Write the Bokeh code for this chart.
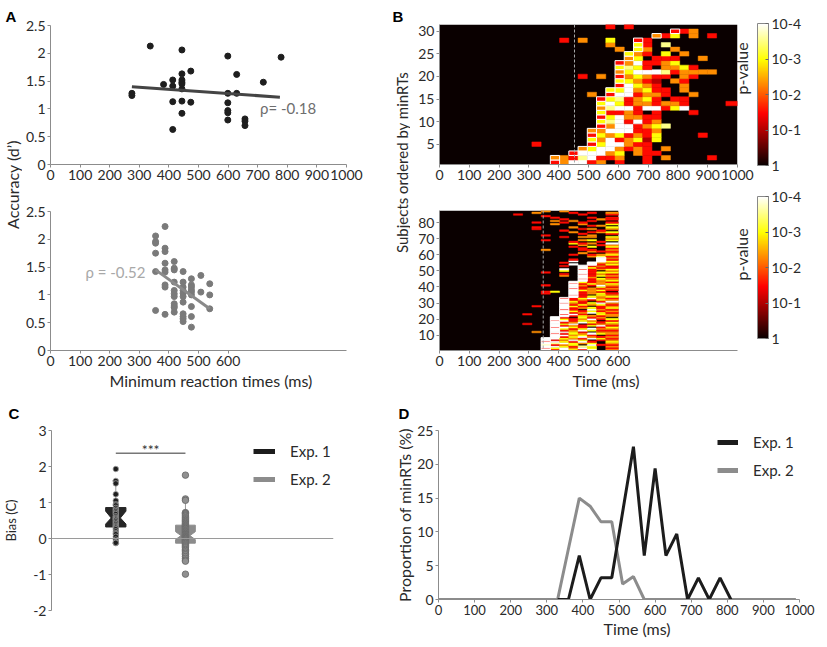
import math
from bokeh.plotting import figure
from bokeh.layouts import row, column
from bokeh.models import (Label, ColorBar, LinearColorMapper, FixedTicker, Span, Title,
                          Legend, LegendItem, NumeralTickFormatter, LinearAxis)
from bokeh.transform import transform
from bokeh.embed import file_html
from bokeh.resources import INLINE
from bokeh.core.properties import value

FONT = "Lato"

# ---------------- Panel A (top): Exp. 1 ----------------
a1_minrt = [275, 275, 337, 382, 413, 413, 413, 413,
            444, 444, 444, 444, 444, 444, 444, 444,
            474, 474, 599, 599, 599, 599, 599, 599,
            629, 629, 657, 657, 657, 719, 779]
a1_dprime = [1.28, 1.24, 2.13, 1.44, 1.52, 1.41, 1.13, 0.63,
             2.06, 1.63, 1.52, 1.48, 1.45, 1.36, 1.14, 0.92,
             1.68, 1.12, 1.95, 1.28, 1.11, 0.97, 0.93, 0.80,
             1.62, 1.28, 0.82, 0.78, 0.70, 1.48, 1.93]
a1_fit_x = [275, 775]
a1_fit_y = [1.40, 1.21]
a1_rho = "ρ= -0.18"
a1_rho_pos = (708, 1.02)

# ---------------- Panel A (bottom): Exp. 2 ----------------
a2_minrt = [355, 355, 355, 355, 355, 355,
            387, 387, 387, 387, 387, 387, 387, 387, 387,
            418, 418, 418, 418, 418, 418, 418, 418, 418, 418, 418,
            448, 448, 448, 448, 448, 448, 448, 448, 448, 448, 448,
            476, 476, 476, 476, 476, 476, 476, 476, 476,
            508, 508,
            538, 538, 538]
a2_dprime = [2.06, 1.96, 1.93, 1.75, 1.42, 0.72,
             2.23, 1.84, 1.78, 1.57, 1.45, 1.41, 1.18, 1.14, 0.65,
             1.60, 1.48, 1.45, 1.23, 1.08, 1.02, 0.97, 0.84, 0.80, 0.77, 0.69,
             1.42, 1.23, 1.14, 1.08, 1.03, 0.97, 0.87, 0.66, 0.61, 0.57, 0.52,
             1.29, 1.18, 1.14, 1.09, 1.05, 1.00, 0.79, 0.61, 0.42,
             1.35, 1.05,
             1.20, 1.00, 0.75]
a2_fit_x = [355, 538]
a2_fit_y = [1.45, 0.75]
a2_rho = "ρ = -0.52"
a2_rho_pos = (118, 1.42)

# ---------------- Panel B: p-value maps ----------------
BIN_MS = 31
P_OF = {".": 1.0, "d": 0.1, "r": 0.03, "o": 0.005, "y": 0.001, "l": 0.0003, "w": 0.0001}
# Exp. 1 : 31 subjects, bins k = 10..31 written (earlier bins non significant)
b1_first_bin = 10
b1_n_bins = 32
b1_t_end = 1000
b1_rows = [
    "..Rowwro.r..r.........",
    "..Oorlwrro..r.o....r..",
    "....Rwwwoy.orr........",
    ".....Oywworor.o.......",
    "r.....Rywworr.........",
    "......Yowroydy........",
    "......Ryoyrory....r...",
    "......Oowwwrro........",
    ".......Rowwroyl.......",
    ".......Ylwrwro........",
    ".......Rywoorr........",
    ".......Yrror.r...r....",
    ".......Olwwrwwryw.....",
    ".......Ywyrooroor....r",
    ".......Rylroyr.rr.....",
    "......o.Rwwroor..o....",
    "........Yywoyrr.o.....",
    ".........Rwyor..o.....",
    ".........Yyord.or.....",
    ".....r.o.Royorr.or....",
    ".........Oywwwlroooo..",
    ".........Ylyr.ooyr....",
    ".........Rowrroy......",
    "..........Oy.rrr..o...",
    "..........Yor.y.o.....",
    ".........o.Yo..o......",
    "........o..Yr.l.......",
    "...r.o..y..Rr.........",
    ".............Ory.o.r..",
    "...............Rro....",
    "........r.r...........",
]
b1_mean_minrt = 453
# Exp. 2 : 87 subjects, bins k = 8..18 written
b2_first_bin = 8
b2_n_bins = 19
b2_t_end = 600
b2_rows = [
    "...Wrwyrw.o", "...Rywowy.r", "...Wwyrly.o", "...Yroy.wrr", "...Wlwyoy.o",
    "...Rwyrwr.y", "...Wrowy.ro", "...Wwyorwyr", "....Wryworo", "....Wwoyr.r",
    "....Rryowyo", "..o.Wwyr.oo", "....Wrowyrr", "....Wyrywoo", "....Rwyr.ry",
    "....Wrorywr", ".r..Wyw.roo", "....Wrowyry", "....Rwryo.r", "....Wyrowry",
    "....Wr.yro.", ".....Wryoro", ".r...Rwr.yo", ".....Wrowyr", ".....Wyryro",
    ".....Rr.wor", ".....Wroyry", "..r..Wyr.ro", ".....Wryoyr", ".....Rorywo",
    ".....Wyr.rw", ".....Wroryo", ".....Rrywor", "......Wryoy", "......Rr.yo",
    "...r..Wroyr", "...ry.Wror.", "......Wyoyr", "......Rroro", "......Wr.yr",
    "...r..Worwo", "......Rryoy", "......Wyror", ".......Wroy", ".......Rryo",
    ".......Wo.r", ".....o.Wryo", ".....r.Rror", "...r...Wryy", ".....y.Wr.o",
    ".....w.Rroy", ".......Wyrr", ".....r.Wror", "......w.Wry", ".....r..Woo",
    "......w..Wy", "......r..Wr", ".........Wo", "........oyr", "......r.roy",
    ".......o..o", "........orr", "...o...rr.o", ".......r..r", "......r.y.y",
    ".......o.ro", "......yro.w", "......r..r.", "...r...oy.y", "..........o",
    ".....r.oo.y", "...r....o..", ".......r..r", "......o.roy", ".....r...r.",
    "..r....ro.o", "..r...o...y", "........ro.", "....o..o..y", "..r..r.r..r",
    "....o.o.r..", ".....r...or", "....r...r.r", "...r.......", "r......r..r",
    "..o...r.r.o", "...o.o.....",
]
b2_mean_minrt = 348
cbar_ticks = [0, 1, 2, 3, 4]
cbar_labels = {0: "1", 1: "10-1", 2: "10-2", 3: "10-3", 4: "10-4"}

# ---------------- Panel C: bias ----------------
c_exp1_bias = [1.93, 1.60, 1.53, 1.23, 1.05, 0.95, 0.92, 0.85, 0.80, 0.76,
               0.72, 0.68, 0.62, 0.58, 0.55, 0.52, 0.48, 0.44, 0.40, 0.36,
               0.33, 0.30, 0.26, 0.20, 0.15, 0.12, 0.05, -0.03, -0.10, -0.13, -0.12]
c_exp2_bias = [1.76, 1.10, 1.06, 0.72, 0.70, 0.68, 0.65, 0.62, 0.58, 0.55,
               0.52, 0.50, 0.47, 0.45, 0.42, 0.40, 0.38, 0.36, 0.34, 0.32,
               0.30, 0.28, 0.26, 0.24, 0.22, 0.20, 0.18, 0.16, 0.14, 0.12,
               0.10, 0.09, 0.08, 0.06, 0.05, 0.04, 0.02, 0.01, 0.00, -0.02,
               -0.04, -0.06, -0.08, -0.10, -0.12, -0.14, -0.17, -0.20, -0.23, -0.26,
               -0.30, -0.33, -0.37, -0.41, -0.45, -0.50, -0.55, -0.60, -0.63, -0.99]
# box stats: q1, median, q3, notch low, notch high, whisker low, whisker high
c_exp1_box = dict(q1=0.32, med=0.57, q3=0.86, nlo=0.40, nhi=0.76, wlo=-0.14, whi=1.60)
c_exp2_box = dict(q1=-0.13, med=0.08, q3=0.37, nlo=-0.03, nhi=0.19, wlo=-0.62, whi=1.08)
c_sig_y = 2.37
c_sig_text = "***"
c_groups = ["Exp. 1", "Exp. 2"]

# ---------------- Panel D: minRT distributions ----------------
d_time_exp1 = [330, 360, 390, 420, 450, 480, 510, 540, 570, 600, 630, 660, 690, 720, 750, 780, 810]
d_exp1_pct = [0, 0, 6.5, 0, 3.2, 3.2, 12.9, 22.6, 6.5, 19.4, 6.5, 9.7, 0, 3.2, 0, 3.2, 0]
d_time_exp2 = [0, 30, 60, 90, 120, 150, 180, 210, 240, 270, 300, 330, 360, 390, 420, 450, 480,
               510, 540, 570, 600, 630, 660, 690, 720, 750, 780, 810, 840, 870, 900, 930, 960, 990]
d_exp2_pct = [0, 0, 0, 0, 0, 0, 0, 0, 0, 0, 0, 0, 7.5, 15.0, 13.8, 11.5, 11.5,
              2.3, 3.4, 0, 0, 0, 0, 0, 0, 0, 0, 0, 0, 0, 0, 0, 0, 0]

# ---------------- styling helpers ----------------
AX = "#8c8c8c"
TXT = "#2a2a2a"
C1 = "#1c1c1c"
C2 = "#8c8c8c"


def hot_palette(n=256):
    cols = []
    for i in range(n):
        t = i / (n - 1)
        r = min(1.0, 0.0416 + (1 - 0.0416) * t / 0.365079)
        g = min(1.0, max(0.0, (t - 0.365079) / (0.746032 - 0.365079)))
        b = min(1.0, max(0.0, (t - 0.746032) / (1 - 0.746032)))
        cols.append("#%02x%02x%02x" % (int(r * 255), int(g * 255), int(b * 255)))
    return cols


HOT = hot_palette()


def style(p, tick_size="14px"):
    p.grid.visible = False
    p.outline_line_color = None
    p.background_fill_color = "white"
    p.border_fill_color = "white"
    for ax in p.axis:
        ax.axis_line_color = AX
        ax.major_tick_line_color = AX
        ax.minor_tick_line_color = None
        ax.major_tick_in = 0
        ax.major_tick_out = 3
        ax.major_label_text_font = FONT
        ax.major_label_text_font_size = tick_size
        ax.major_label_text_color = TXT
        ax.major_label_standoff = 2
        ax.axis_label_text_font = FONT
        ax.axis_label_text_font_size = "16px"
        ax.axis_label_text_font_style = "normal"
        ax.axis_label_text_color = TXT
        ax.axis_label_standoff = 2


def fig(w, h, l, r, t, b, xr, yr, **kw):
    return figure(width=w, height=h, x_range=xr, y_range=yr, toolbar_location=None,
                  output_backend="svg", min_border_left=l, min_border_right=r,
                  min_border_top=t, min_border_bottom=b, **kw)


def slabel(p, x, y, text, size="16px", angle=0.0, align="left", baseline="bottom",
           color=TXT, font=FONT, fstyle="normal"):
    p.add_layout(Label(x=x, y=y, x_units="screen", y_units="screen", text=text, angle=angle,
                       text_align=align, text_baseline=baseline, text_font_size=size,
                       text_color=color, text_font=font, text_font_style=fstyle))


def xtitle(p, text, offset, standoff=2):
    p.add_layout(Title(text=text, align="left", offset=offset, vertical_align="middle",
                       standoff=standoff, text_font=FONT, text_font_size="16px",
                       text_font_style="normal", text_color=TXT), "below")


def letter(p, text, offset):
    p.title.text = text
    p.title.align = "left"
    p.title.offset = offset
    p.title.vertical_align = "top"
    p.title.standoff = 13
    p.title.text_font = "Liberation Sans"
    p.title.text_font_size = "15px"
    p.title.text_font_style = "bold"
    p.title.text_color = "black"


# ---------------- side label strips ----------------
labA = fig(22, 398, 0, 0, 0, 0, (0, 1), (0, 1), x_axis_location=None, y_axis_location=None)
style(labA)
slabel(labA, 12, 214, "Accuracy (d’)", angle=math.pi / 2, align="center", baseline="middle")
slabel(labA, 5, 391, "A", size="15px", baseline="top", font="Liberation Sans", fstyle="bold", color="black")

labB = fig(18, 398, 0, 0, 0, 0, (0, 1), (0, 1), x_axis_location=None, y_axis_location=None)
style(labB)
slabel(labB, 9, 236, "Subjects ordered by minRTs", size="15px", angle=math.pi / 2,
       align="center", baseline="middle")
slabel(labB, 0, 391, "B", size="15px", baseline="top", font="Liberation Sans", fstyle="bold", color="black")

# ---------------- A top ----------------
pA1 = fig(370, 188, 26, 46, 25, 24, (0, 1000), (0, 2.5))
pA1.scatter(a1_minrt, a1_dprime, size=6, color="#1e1e1e")
pA1.line(a1_fit_x, a1_fit_y, line_color="#444444", line_width=3)
pA1.text(x=[a1_rho_pos[0]], y=[a1_rho_pos[1]], text=[a1_rho], text_font=value(FONT),
         text_font_size="15px", text_color="#6e6e6e", text_baseline="middle")
style(pA1)
pA1.xaxis.ticker = FixedTicker(ticks=list(range(0, 1001, 100)))
pA1.yaxis.ticker = FixedTicker(ticks=[0, 0.5, 1, 1.5, 2, 2.5])
pA1.yaxis.formatter = NumeralTickFormatter(format="0.[0]")

# ---------------- A bottom ----------------
pA2 = fig(370, 210, 26, 46, 23, 48, (0, 1000), (0, 2.5))
pA2.scatter(a2_minrt, a2_dprime, size=6, color="#7a7a7a")
pA2.line(a2_fit_x, a2_fit_y, line_color="#8a8a8a", line_width=3)
pA2.text(x=[a2_rho_pos[0]], y=[a2_rho_pos[1]], text=[a2_rho], text_font=value(FONT),
         text_font_size="15px", text_color="#a8a8a8", text_baseline="middle")
style(pA2)
pA2.xaxis.ticker = FixedTicker(ticks=list(range(0, 601, 100)))
pA2.yaxis.ticker = FixedTicker(ticks=[0, 0.5, 1, 1.5, 2, 2.5])
pA2.yaxis.formatter = NumeralTickFormatter(format="0.[0]")
xtitle(pA2, "Minimum reaction times (ms)", 59)

# ---------------- B heatmaps ----------------
cmap = LinearColorMapper(palette=HOT, low=0, high=4)


def heat_cells(rows, first_bin, n_bins, t_end):
    plain = dict(left=[], right=[], bottom=[], top=[], v=[])
    boxed = dict(left=[], right=[], bottom=[], top=[], v=[])
    for s, line in enumerate(rows, start=1):
        for j, ch in enumerate(line):
            k = first_bin + j
            if k >= n_bins or ch.lower() not in P_OF or ch == ".":
                continue
            tgt = boxed if ch.isupper() else plain
            tgt["left"].append(k * BIN_MS)
            tgt["right"].append(t_end if k == n_bins - 1 else (k + 1) * BIN_MS)
            tgt["bottom"].append(s - 0.5)
            tgt["top"].append(s + 0.5)
            tgt["v"].append(-math.log10(P_OF[ch.lower()]))
    return plain, boxed


def heat_panel(p, rows, first_bin, n_bins, t_end, mean_rt):
    p.quad(left=[0], right=[t_end], bottom=[0.5], top=[len(rows) + 0.5],
           fill_color=HOT[0], line_color=None)
    plain, boxed = heat_cells(rows, first_bin, n_bins, t_end)
    p.quad(left="left", right="right", bottom="bottom", top="top", source=plain,
           fill_color=transform("v", cmap), line_color=transform("v", cmap), line_width=0.5)
    p.quad(left="left", right="right", bottom="bottom", top="top", source=boxed,
           fill_color=transform("v", cmap), line_color="white", line_width=1)
    p.add_layout(Span(location=mean_rt, dimension="height", line_color="#a8a8a8",
                      line_dash="3 2", line_width=1))


def add_cbar(p, y_off):
    cb = ColorBar(color_mapper=cmap, ticker=FixedTicker(ticks=cbar_ticks),
                  major_label_overrides=cbar_labels, width=11, height=142,
                  location=(318, y_off), padding=0, margin=0,
                  bar_line_color="#888888", major_tick_line_color="#666666",
                  major_tick_in=3, major_tick_out=0, minor_tick_line_color=None,
                  major_label_text_font=FONT, major_label_text_font_size="14px",
                  major_label_text_color=TXT, label_standoff=3,
                  background_fill_alpha=0, border_line_color=None)
    p.add_layout(cb)
    ax = LinearAxis(ticker=FixedTicker(ticks=[]), axis_line_color=None,
                    major_tick_line_color=None, minor_tick_line_color=None,
                    major_tick_out=0, major_label_text_font_size="1px",
                    axis_label="p-value", axis_label_standoff=4,
                    axis_label_text_font=FONT, axis_label_text_font_size="16px",
                    axis_label_text_font_style="normal", axis_label_text_color=TXT)
    try:
        ax.axis_label_orientation = math.pi / 2
    except Exception:
        pass
    p.add_layout(ax, "right")


pB1 = fig(417, 188, 29, 90, 24, 24, (0, 1000), (0.5, 31.5))
heat_panel(pB1, b1_rows, b1_first_bin, b1_n_bins, b1_t_end, b1_mean_minrt)
style(pB1)
pB1.xaxis.ticker = FixedTicker(ticks=list(range(0, 1001, 100)))
pB1.yaxis.ticker = FixedTicker(ticks=[5, 10, 15, 20, 25, 30])
add_cbar(pB1, -1)

pB2 = fig(417, 210, 29, 90, 22, 48, (0, 1000), (0.5, 87.5))
heat_panel(pB2, b2_rows, b2_first_bin, b2_n_bins, b2_t_end, b2_mean_minrt)
style(pB2)
pB2.xaxis.ticker = FixedTicker(ticks=list(range(0, 601, 100)))
pB2.yaxis.ticker = FixedTicker(ticks=[10, 20, 30, 40, 50, 60, 70, 80])
add_cbar(pB2, 12)
xtitle(pB2, "Time (ms)", 133)

# ---------------- C ----------------
pC = fig(392, 249, 48, 59, 32, 37, (0, 1), (-2, 3), x_axis_location=None)
c_pos = [0.228, 0.475]
c_half = [0.036, 0.035]
c_fill = ["#262626", "#8c8c8c"]
pC.add_layout(Span(location=0, dimension="width", line_color="#9a9a9a", line_width=1))
for box, cx, hw, col in zip([c_exp1_box, c_exp2_box], c_pos, c_half, c_fill):
    wn = hw * 0.45
    xs = [cx - hw, cx + hw, cx + hw, cx + wn, cx + hw, cx + hw, cx - hw, cx - hw, cx - wn, cx - hw]
    ys = [box["q3"], box["q3"], box["nhi"], box["med"], box["nlo"], box["q1"], box["q1"],
          box["nlo"], box["med"], box["nhi"]]
    pC.segment(x0=[cx, cx], y0=[box["q3"], box["q1"]], x1=[cx, cx], y1=[box["whi"], box["wlo"]],
               line_color="#9a9a9a", line_width=1)
    pC.segment(x0=[cx - 0.012, cx - 0.012], y0=[box["whi"], box["wlo"]],
               x1=[cx + 0.012, cx + 0.012], y1=[box["whi"], box["wlo"]],
               line_color="#9a9a9a", line_width=1)
    pC.patch(xs, ys, fill_color=col, line_color=col)
pC.scatter([c_pos[0]] * len(c_exp1_bias), c_exp1_bias, size=5.5, fill_color="#1e1e1e",
           line_color="#a0a0a0", line_width=0.8)
pC.scatter([c_pos[1]] * len(c_exp2_bias), c_exp2_bias, size=6.5, fill_color="#909090",
           line_color="#666666", line_width=0.8)
pC.segment(x0=[c_pos[0]], x1=[c_pos[1]], y0=[c_sig_y], y1=[c_sig_y], line_color="#777777", line_width=1.5)
pC.text(x=[(c_pos[0] + c_pos[1]) / 2], y=[c_sig_y + 0.09], text=[c_sig_text], text_font=value(FONT),
        text_font_size="14px", text_color="#333333", text_align="center", text_baseline="middle")
# legend proxies, drawn below the visible y range
rc1 = pC.line(x=[0, 0.1], y=[-9, -9], line_color=C1, line_width=5)
rc2 = pC.line(x=[0, 0.1], y=[-9, -9], line_color=C2, line_width=5)
style(pC)
pC.yaxis.ticker = FixedTicker(ticks=[-2, -1, 0, 1, 2, 3])
pC.yaxis.formatter = NumeralTickFormatter(format="0")
pC.yaxis.axis_label = "Bias (C)"
pC.yaxis.axis_label_text_font_size = "13px"
pC.yaxis.axis_label_standoff = 11
legC = Legend(items=[LegendItem(label=c_groups[0], renderers=[rc1]),
                     LegendItem(label=c_groups[1], renderers=[rc2])],
              location=(202, 121), orientation="vertical", background_fill_alpha=0,
              border_line_alpha=0, padding=0, margin=0, spacing=8, glyph_width=22,
              glyph_height=20, label_height=20, label_standoff=15, label_text_font=FONT,
              label_text_font_size="15px", label_text_color=TXT)
pC.add_layout(legC)
letter(pC, "C", -43)

# ---------------- D ----------------
pD = fig(435, 249, 46, 28, 31, 48, (0, 1000), (0, 25))
pD.line(d_time_exp2, d_exp2_pct, line_color=C2, line_width=3)
pD.line(d_time_exp1, d_exp1_pct, line_color=C1, line_width=3)
rd1 = pD.line(x=[0, 10], y=[-9, -9], line_color=C1, line_width=5)
rd2 = pD.line(x=[0, 10], y=[-9, -9], line_color=C2, line_width=5)
style(pD, tick_size="13px")
pD.yaxis.major_label_text_font_size = "14px"
pD.xaxis.ticker = FixedTicker(ticks=list(range(0, 1001, 100)))
pD.yaxis.ticker = FixedTicker(ticks=[0, 5, 10, 15, 20, 25])
pD.yaxis.axis_label = "Proportion of minRTs (%)"
pD.yaxis.axis_label_standoff = 0
legD = Legend(items=[LegendItem(label=c_groups[0], renderers=[rd1]),
                     LegendItem(label=c_groups[1], renderers=[rd2])],
              location=(279, 119), orientation="vertical", background_fill_alpha=0,
              border_line_alpha=0, padding=0, margin=0, spacing=8, glyph_width=21,
              glyph_height=20, label_height=20, label_standoff=15, label_text_font=FONT,
              label_text_font_size="15px", label_text_color=TXT)
pD.add_layout(legD)
xtitle(pD, "Time (ms)", 165, standoff=0)
letter(pD, "D", -40)

left_col = column(row(labA, column(pA1, pA2)), pC)
right_col = column(row(labB, column(pB1, pB2)), pD)
layout = row(left_col, right_col)

open("out.html", "w").write(file_html(layout, INLINE))
